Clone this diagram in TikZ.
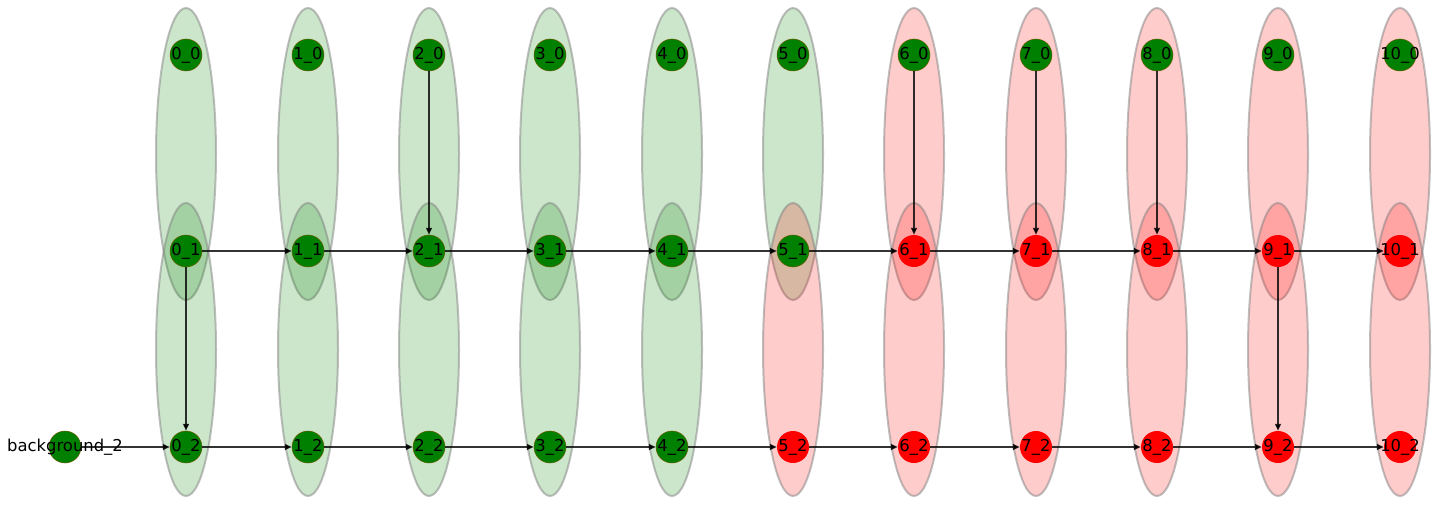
\documentclass[tikz,border=0pt]{standalone}
\usepackage{fontspec}
\setmainfont{DejaVu Sans}
\usetikzlibrary{arrows.meta}
\definecolor{ngreen}{RGB}{0,128,0}
\definecolor{nred}{RGB}{255,0,0}
\definecolor{nring}{RGB}{110,90,0}
\begin{document}
\begin{tikzpicture}[x=1pt,y=-1pt,
  ell/.style={draw=gray,draw opacity=0.5,line width=2pt,fill opacity=0.2},
  nd/.style={circle,minimum size=32pt,inner sep=0pt},
  gn/.style={nd,fill=ngreen,draw=nring,line width=0.5pt},
  rn/.style={nd,fill=nred},
  lbl/.style={font=\fontsize{16.4}{18}\selectfont,inner sep=0pt,text=black},
  edge/.style={draw=black,draw opacity=0.8,line width=1.4pt,-{Triangle[length=7pt,width=6pt]}}]
\useasboundingbox (0,0) rectangle (1439,505);
% ellipses
\foreach \xx [count=\c from 0] in {186,308,429,550,672,793,914,1036,1157,1278,1400}{
  \ifnum\c<6
    \draw[ell,fill=ngreen] (\xx,154) ellipse [x radius=30pt,y radius=146pt];
  \else
    \draw[ell,fill=nred] (\xx,154) ellipse [x radius=30pt,y radius=146pt];
  \fi
  \ifnum\c<5
    \draw[ell,fill=ngreen] (\xx,349.5) ellipse [x radius=30pt,y radius=146.5pt];
  \else
    \draw[ell,fill=nred] (\xx,349.5) ellipse [x radius=30pt,y radius=146.5pt];
  \fi
}
% nodes
\node[gn] (bg) at (65,447) {};
\foreach \xx [count=\c from 0] in {186,308,429,550,672,793,914,1036,1157,1278,1400}{
  \node[gn] (n\c-0) at (\xx,55) {};
  \ifnum\c<6 \node[gn] (n\c-1) at (\xx,251) {}; \else \node[rn] (n\c-1) at (\xx,251) {}; \fi
  \ifnum\c<5 \node[gn] (n\c-2) at (\xx,447) {}; \else \node[rn] (n\c-2) at (\xx,447) {}; \fi
}
% edges
\draw[edge] (bg) -- (n0-2);
\foreach \i [evaluate=\i as \j using int(\i+1)] in {0,...,9}{
  \draw[edge] (n\i-1) -- (n\j-1);
  \draw[edge] (n\i-2) -- (n\j-2);
}
\foreach \i in {2,6,7,8}{ \draw[edge] (n\i-0) -- (n\i-1); }
\draw[edge] (n0-1) -- (n0-2);
\draw[edge] (n9-1) -- (n9-2);
% labels
\node[lbl] at (bg) {background\_2};
\foreach \i in {0,...,10}{
  \foreach \r in {0,1,2}{
    \node[lbl] at (n\i-\r) {\i\_\r};
  }
}
\end{tikzpicture}
\end{document}
